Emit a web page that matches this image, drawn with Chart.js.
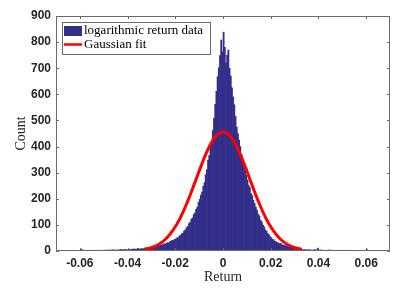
<!DOCTYPE html>
<html>
<head>
<meta charset="utf-8">
<script src="https://cdn.jsdelivr.net/npm/chart.js@4.4.1/dist/chart.umd.min.js"></script>
<style>
  html, body { margin: 0; padding: 0; background: #fff; }
  #chart { display: block; }
</style>
</head>
<body>
<canvas id="chart" width="399" height="290"></canvas>
<script>
// histogram bins, 0.0005 wide, first edge at -0.07
const binStart = -0.07;
const binWidth = 0.0005;
const counts = [
  // -0.07 .. -0.06
  0, 1, 0, 1, 2, 1, 1, 0, 2, 1, 1, 2, 1, 1, 3, 1, 2, 1, 2, 2,
  // -0.06 .. -0.05
  2, 7, 2, 1, 2, 3, 2, 2, 1, 3, 2, 2, 3, 2, 2, 3, 2, 3, 3, 2,
  // -0.05 .. -0.04
  3, 3, 4, 2, 3, 4, 3, 5, 3, 4, 4, 3, 5, 4, 6, 4, 5, 5, 6, 4,
  // -0.04 .. -0.03
  5, 6, 5, 7, 6, 8, 7, 6, 10, 8, 7, 9, 8, 9, 11, 10, 9, 12, 11, 12,
  // -0.03 .. -0.02
  13, 15, 14, 17, 18, 20, 19, 23, 22, 25, 27, 26, 30, 32, 31, 36, 38, 41, 40, 45,
  // -0.02 .. -0.01
  46, 50, 51, 58, 60, 66, 69, 77, 81, 90, 94, 105, 110, 122, 127, 140, 146, 160, 168, 186,
  // -0.01 .. 0
  198, 214, 226, 248, 262, 292, 312, 348, 366, 398, 418, 462, 508, 562, 612, 668, 702, 748, 808, 762,
  // 0 .. 0.01
  838, 780, 720, 750, 770, 700, 670, 625, 590, 560, 515, 475, 450, 425, 400, 370, 350, 330, 310, 290,
  // 0.01 .. 0.02
  272, 252, 243, 220, 212, 194, 182, 168, 157, 141, 134, 118, 112, 99, 93, 81, 76, 67, 63, 55,
  // 0.02 .. 0.03
  51, 45, 43, 37, 36, 32, 31, 28, 29, 24, 23, 22, 19, 20, 17, 16, 15, 14, 13, 11,
  // 0.03 .. 0.04
  10, 9, 8, 7, 6, 6, 5, 5, 5, 4, 4, 5, 4, 4, 3, 4, 5, 4, 4, 11,
  // 0.04 .. 0.05
  4, 3, 4, 3, 2, 3, 3, 2, 4, 3, 2, 3, 3, 2, 2, 3, 2, 2, 3, 2,
  // 0.05 .. 0.06
  2, 2, 3, 1, 2, 2, 1, 2, 3, 2, 1, 2, 2, 1, 2, 1, 2, 3, 2, 1,
  // 0.06 .. 0.07
  7, 2, 1, 2, 1, 1, 2, 1, 1, 2, 1, 1, 0, 1, 1, 0, 1, 0, 1, 0
];

// gaussian fit curve
const fitX = [-0.033, -0.030, -0.027, -0.024, -0.021, -0.018, -0.015, -0.012, -0.009, -0.006, -0.003, 0,
  0.003, 0.006, 0.009, 0.012, 0.015, 0.018, 0.021, 0.024, 0.027, 0.030, 0.033];
const fitY = [6, 13, 25, 46, 79, 125, 186, 257, 330, 395, 440, 456,
  440, 395, 330, 257, 186, 125, 79, 46, 25, 13, 6];

const xTicks = [-0.06, -0.04, -0.02, 0, 0.02, 0.04, 0.06];
const yTicks = [0, 100, 200, 300, 400, 500, 600, 700, 800, 900];

const barColor = '#332f8a';
const fitColor = '#ff0000';
const axisColor = '#262626';
const tickFont = { family: '"Liberation Sans", Arial, sans-serif', size: 12, weight: 'bold' };
const serif = '"Liberation Serif", "Times New Roman", serif';

const histData = counts.map((c, i) => ({ x: binStart + (i + 0.5) * binWidth, y: c }));
const fitData = fitX.map((x, i) => ({ x, y: fitY[i] }));

// box, inward ticks, axis titles and legend, drawn the matlab way
const frame = {
  id: 'frame',
  afterDatasetsDraw(chart) {
    const { ctx, chartArea: a, scales: { x, y } } = chart;
    const t = 3;
    ctx.save();
    ctx.strokeStyle = '#6b6b6b';
    ctx.lineWidth = 1;
    ctx.beginPath();
    ctx.rect(a.left + 0.5, a.top + 0.5, a.right - a.left - 1, a.bottom - a.top - 1);
    xTicks.forEach(v => {
      const px = Math.round(x.getPixelForValue(v)) + 0.5;
      ctx.moveTo(px, a.bottom); ctx.lineTo(px, a.bottom - t);
      ctx.moveTo(px, a.top); ctx.lineTo(px, a.top + t);
    });
    yTicks.forEach(v => {
      const py = Math.round(y.getPixelForValue(v)) + 0.5;
      ctx.moveTo(a.left, py); ctx.lineTo(a.left + t, py);
      ctx.moveTo(a.right, py); ctx.lineTo(a.right - t, py);
    });
    ctx.stroke();
    ctx.restore();
  },
  afterDraw(chart) {
    const { ctx, chartArea: a } = chart;
    ctx.save();
    ctx.fillStyle = axisColor;
    ctx.font = '14px ' + serif;
    ctx.textAlign = 'center';
    ctx.textBaseline = 'middle';
    ctx.fillText('Return', (a.left + a.right) / 2, 277);
    ctx.translate(21, (a.top + a.bottom) / 2);
    ctx.rotate(-Math.PI / 2);
    ctx.fillText('Count', 0, 0);
    ctx.restore();

    // legend box
    const ds = chart.data.datasets;
    const lx = 62, ly = 22, lw = 148, lh = 32;
    ctx.save();
    ctx.fillStyle = '#fff';
    ctx.fillRect(lx, ly, lw, lh);
    ctx.strokeStyle = '#6b6b6b';
    ctx.lineWidth = 1;
    ctx.strokeRect(lx + 0.5, ly + 0.5, lw, lh);
    ctx.fillStyle = barColor;
    ctx.fillRect(64, 26, 18, 10);
    ctx.strokeStyle = fitColor;
    ctx.lineWidth = 2.5;
    ctx.beginPath();
    ctx.moveTo(64, 44.5); ctx.lineTo(82, 44.5);
    ctx.stroke();
    ctx.fillStyle = '#000';
    ctx.font = '13px ' + serif;
    ctx.textAlign = 'left';
    ctx.textBaseline = 'middle';
    ctx.fillText(ds[1].label, 84, 31);
    ctx.fillText(ds[0].label, 84, 45);
    ctx.restore();
  }
};

new Chart(document.getElementById('chart'), {
  type: 'bar',
  data: {
    datasets: [
      {
        type: 'line',
        label: 'Gaussian fit',
        data: fitData,
        borderColor: fitColor,
        borderWidth: 3,
        pointRadius: 0,
        tension: 0.4,
        fill: false,
        order: 0,
      },
      {
        label: 'logarithmic return data',
        data: histData,
        backgroundColor: barColor,
        borderWidth: 0,
        barPercentage: 1,
        categoryPercentage: 1,
        order: 1,
      },
    ],
  },
  options: {
    responsive: false,
    animation: false,
    devicePixelRatio: 1,
    layout: { padding: { left: 0, top: 16, right: 9, bottom: 0 } },
    plugins: { legend: { display: false }, tooltip: { enabled: false } },
    scales: {
      x: {
        type: 'linear',
        min: -0.07,
        max: 0.07,
        offset: false,
        grid: { display: false, drawTicks: false },
        border: { display: false },
        afterBuildTicks: s => { s.ticks = xTicks.map(v => ({ value: v })); },
        afterFit: s => { s.height = 39; },
        ticks: {
          color: axisColor,
          font: tickFont,
          padding: 5,
          maxRotation: 0,
          callback: v => (v === 0 ? '0' : v.toFixed(2)),
        },
      },
      y: {
        min: 0,
        max: 900,
        grid: { display: false, drawTicks: false },
        border: { display: false },
        afterBuildTicks: s => { s.ticks = yTicks.map(v => ({ value: v })); },
        afterFit: s => { s.width = 56; },
        ticks: { color: axisColor, font: tickFont, padding: 5 },
      },
    },
  },
  plugins: [frame],
});
</script>
</body>
</html>
